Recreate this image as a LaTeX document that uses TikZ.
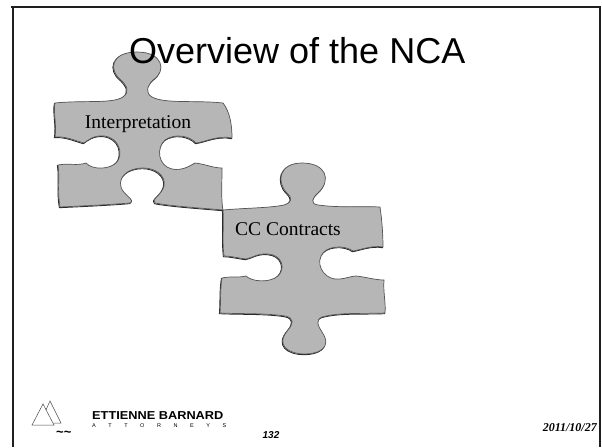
\documentclass[tikz,border=0pt]{standalone}
\usepackage{fontspec}
\setmainfont{Liberation Serif}
\newfontfamily\arialfont{Liberation Sans}
\definecolor{pzfill}{RGB}{182,182,182}
\definecolor{pzedge}{RGB}{85,85,85}
\begin{document}
\begin{tikzpicture}[x=1pt,y=-1pt,
  frameline/.style={draw=black!88, line width=2.6pt},
  piece/.style={fill=pzfill, draw=pzedge, line width=0.7pt,
    preaction={draw=black!85, line width=0.9pt,
      transform canvas={shift={(-0.6,0.7)}}}},
  piecelabel/.style={font=\fontsize{19.5}{22}\selectfont, anchor=base, inner sep=0pt},
  logoline/.style={draw=black!70, line width=0.5pt},
]
\useasboundingbox (0,0) rectangle (602,447);

% slide frame
\draw[frameline] (11,7) -- (601,7);
\draw[frameline] (13,6) -- (13,447);
\draw[frameline, line width=2pt] (600,6) -- (600,447);

% first puzzle piece
\path[piece]
  (55,103) .. controls (85,100) and (112,104) .. (123,97)
  .. controls (130,92) and (127,86) .. (121,80)
  .. controls (108,70) and (111,52) .. (137,52)
  .. controls (163,52) and (167,71) .. (153,80)
  .. controls (147,86) and (145,93) .. (152,97)
  .. controls (165,104) and (195,100) .. (223,103)
  .. controls (230,112) and (232,125) .. (232,138)
  .. controls (218,135) and (205,142) .. (196,143)
  .. controls (190,136) and (175,133) .. (165,140)
  .. controls (156,148) and (158,166) .. (172,169)
  .. controls (182,171) and (190,166) .. (195,163)
  .. controls (205,164) and (213,168) .. (222,168)
  .. controls (222,185) and (221,200) .. (223,210)
  .. controls (200,208) and (170,206) .. (155,203)
  .. controls (150,200) and (162,195) .. (164,186)
  .. controls (166,175) and (155,168) .. (143,168)
  .. controls (129,168) and (118,176) .. (121,187)
  .. controls (123,195) and (136,200) .. (130,203)
  .. controls (105,205) and (80,206) .. (60,207)
  .. controls (57,190) and (60,178) .. (58,165)
  .. controls (68,163) and (78,166) .. (86,163)
  .. controls (92,170) and (110,170) .. (117,162)
  .. controls (123,154) and (120,138) .. (104,136)
  .. controls (94,135) and (88,140) .. (84,143)
  .. controls (76,141) and (66,136) .. (55,137)
  .. controls (57,125) and (53,112) .. (55,103) -- cycle;

% second puzzle piece
\path[piece]
  (223,210) .. controls (245,208) and (270,208) .. (284,205)
  .. controls (293,202) and (292,198) .. (287,193)
  .. controls (276,182) and (279,163) .. (302,163)
  .. controls (326,163) and (332,180) .. (318,193)
  .. controls (312,198) and (310,204) .. (318,205)
  .. controls (340,208) and (360,206) .. (380,207)
  .. controls (382,220) and (383,235) .. (383,247)
  .. controls (372,245) and (360,250) .. (353,251)
  .. controls (345,245) and (326,245) .. (321,256)
  .. controls (316,267) and (326,281) .. (340,279)
  .. controls (348,278) and (352,276) .. (356,276)
  .. controls (366,277) and (375,280) .. (384,280)
  .. controls (383,292) and (386,303) .. (385,313)
  .. controls (365,314) and (340,312) .. (322,317)
  .. controls (315,320) and (318,326) .. (322,332)
  .. controls (333,348) and (318,354) .. (305,354)
  .. controls (288,354) and (275,345) .. (288,330)
  .. controls (293,324) and (295,318) .. (285,316)
  .. controls (265,313) and (240,314) .. (220,313)
  .. controls (221,300) and (220,290) .. (222,278)
  .. controls (230,276) and (238,278) .. (246,276)
  .. controls (252,282) and (270,283) .. (278,276)
  .. controls (286,268) and (282,255) .. (268,254)
  .. controls (258,253) and (252,258) .. (246,259)
  .. controls (238,258) and (230,256) .. (224,256)
  .. controls (222,240) and (224,225) .. (223,210) -- cycle;

\node[piecelabel] (interp) at (138,128) {Interpretation};
\node[piecelabel] (cc) at (288,235) {CC Contracts};

% title
\node[anchor=base west, inner sep=0pt, font=\arialfont\fontsize{36}{40}\selectfont]
  (title) at (129,63) {Overview of the NCA};

% firm logo
\draw[logoline] (40,423) -- (50,401) -- (61,423) -- cycle;
\draw[logoline, fill=white] (32,425) -- (43,404) -- (54,425) -- cycle;
\node[anchor=base west, inner sep=0pt, font=\arialfont\bfseries\fontsize{13}{13}\selectfont]
  (wave) at (56,436) {\textasciitilde\textasciitilde};
\node[anchor=base west, inner sep=0pt, font=\arialfont\bfseries\fontsize{11.5}{12}\selectfont]
  (firm) at (92,419) {\scalebox{1.11}[1]{ETTIENNE BARNARD}};
\node[anchor=base west, inner sep=0pt, font=\arialfont\fontsize{5.5}{6}\selectfont]
  (attys) at (92,427) {\makebox[134pt][s]{A\hfill T\hfill T\hfill O\hfill R\hfill N\hfill E\hfill Y\hfill S}};

% footer
\node[anchor=base, inner sep=0pt, font=\arialfont\bfseries\itshape\fontsize{10}{11}\selectfont]
  (page) at (271,438) {132};
\node[anchor=base east, inner sep=0pt, font=\bfseries\itshape\fontsize{12}{13}\selectfont]
  (date) at (597,431) {2011/10/27};
\end{tikzpicture}
\end{document}
